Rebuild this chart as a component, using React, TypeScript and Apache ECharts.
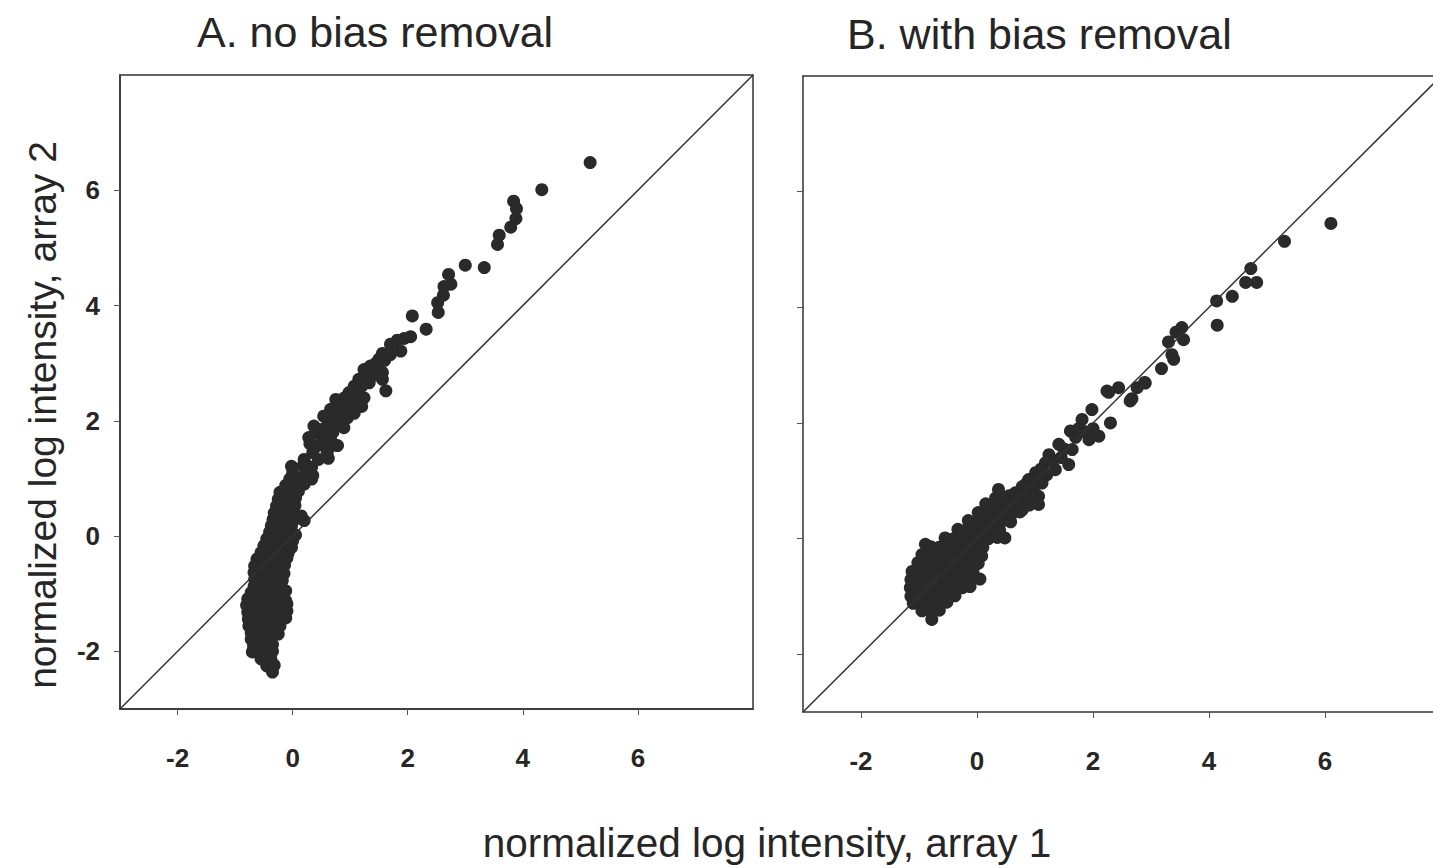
import React, { useEffect, useRef } from "react";
import * as echarts from "echarts";

const panelTitles = ["A. no bias removal", "B. with bias removal"];
const xAxisName = "normalized log intensity, array 1";
const yAxisName = "normalized log intensity, array 2";
const tickValues = [-2, 0, 2, 4, 6];
const axisMin = -3;
const axisMax = 8;
const axisMaxB = 7.86; // panel B is cut off at the right edge of the scan
const diagonal = [[-3, -3], [8, 8]];

// Panel A: no bias removal (x = array 1, y = array 2)
const pointsA = [
  [5.17, 6.48], [4.33, 6.01], [3.84, 5.81], [3.89, 5.68], [3.88, 5.51], [3.79, 5.36], [3.59, 5.22], [3.56, 5.06],
  [3.0, 4.7], [3.33, 4.66], [2.71, 4.54], [2.75, 4.37], [2.63, 4.33], [2.62, 4.18], [2.52, 4.05], [2.53, 3.88],
  [2.08, 3.82], [2.32, 3.59], [2.05, 3.46], [1.94, 3.43], [1.82, 3.4], [1.7, 3.33], [1.88, 3.21], [1.56, 3.17],
  [1.5, 3.07], [1.56, 2.84], [1.56, 2.72], [1.62, 2.52], [1.24, 2.89], [1.15, 2.72], [1.33, 2.66], [1.07, 2.6],
  [0.98, 2.49], [1.24, 2.4], [1.07, 2.13], [0.75, 2.37], [0.66, 2.2], [0.89, 2.32], [0.83, 2.08], [0.54, 2.08],
  [0.6, 1.91], [0.37, 1.91], [0.89, 1.88], [0.28, 1.71], [0.49, 1.74], [0.66, 1.68], [0.78, 1.57], [0.43, 1.57],
  [1.15, 2.55], [1.3, 2.8], [1.4, 2.95], [0.95, 2.3], [1.1, 2.35], [0.85, 2.2], [0.7, 2.05], [1.45, 3.0], [1.35, 2.95],
  [0.5, 1.85], [0.7, 1.8], [0.75, 1.95], [0.95, 2.05], [1.0, 2.2], [1.2, 2.25], [0.55, 1.62], [0.65, 1.55],
  [0.3, 1.6], [0.9, 2.4], [1.05, 2.45], [1.2, 2.6], [1.35, 2.75], [1.45, 2.85], [1.6, 3.05], [1.7, 3.15], [0.4, 1.8],
  [0.35, 1.45], [0.6, 1.45], [0.2, 1.33], [0.45, 1.33], [0.62, 1.35],
  [-0.02, 1.21], [0.18, 1.22], [0.33, 1.2], [0.0, 1.1], [0.22, 1.08], [0.35, 1.05],
  [-0.05, 0.99], [0.15, 0.98], [0.33, 0.99], [-0.12, 0.88], [0.08, 0.87], [0.2, 0.9],
  [-0.22, 0.76], [-0.02, 0.75], [0.1, 0.78], [-0.25, 0.64], [-0.08, 0.62], [0.05, 0.66],
  [-0.28, 0.52], [-0.1, 0.5], [0.04, 0.53], [-0.32, 0.4], [-0.15, 0.42], [0.02, 0.38], [0.15, 0.35],
  [-0.34, 0.29], [-0.15, 0.28], [0.05, 0.3], [0.2, 0.27], [-0.37, 0.18], [-0.2, 0.16], [-0.02, 0.18],
  [-0.4, 0.07], [-0.22, 0.05], [-0.05, 0.08], [0.05, 0.02], [-0.45, -0.05], [-0.28, -0.06], [-0.1, -0.04], [0.0, -0.08],
  [-0.5, -0.17], [-0.33, -0.18], [-0.15, -0.16], [-0.02, -0.2], [-0.55, -0.29], [-0.38, -0.3], [-0.2, -0.28], [-0.08, -0.3],
  [-0.62, -0.4], [-0.45, -0.42], [-0.28, -0.4], [-0.1, -0.38], [-0.66, -0.52], [-0.5, -0.5], [-0.32, -0.53], [-0.14, -0.5],
  [-0.67, -0.63], [-0.5, -0.64], [-0.32, -0.62], [-0.15, -0.65], [-0.66, -0.75], [-0.5, -0.76], [-0.33, -0.74], [-0.18, -0.77],
  [-0.67, -0.87], [-0.5, -0.88], [-0.33, -0.86], [-0.2, -0.88],
  [-0.72, -0.98], [-0.55, -0.99], [-0.38, -0.97], [-0.22, -1.0], [-0.12, -0.95],
  [-0.78, -1.09], [-0.6, -1.1], [-0.42, -1.08], [-0.25, -1.1], [-0.12, -1.12],
  [-0.8, -1.2], [-0.62, -1.22], [-0.45, -1.2], [-0.28, -1.21], [-0.1, -1.18],
  [-0.78, -1.32], [-0.6, -1.33], [-0.42, -1.31], [-0.25, -1.33], [-0.1, -1.3],
  [-0.77, -1.44], [-0.6, -1.45], [-0.42, -1.43], [-0.25, -1.45], [-0.12, -1.42],
  [-0.76, -1.56], [-0.58, -1.57], [-0.4, -1.55], [-0.22, -1.56],
  [-0.72, -1.68], [-0.55, -1.69], [-0.38, -1.67], [-0.25, -1.7],
  [-0.72, -1.79], [-0.55, -1.8], [-0.38, -1.78], [-0.68, -1.9], [-0.5, -1.92], [-0.35, -1.88],
  [-0.7, -2.01], [-0.52, -2.02], [-0.35, -2.0], [-0.55, -2.13], [-0.38, -2.12],
  [-0.45, -2.25], [-0.32, -2.24], [-0.35, -2.36],
];

// Panel B: with bias removal
const pointsB = [
  [6.1, 5.45], [5.3, 5.14], [4.72, 4.67], [4.63, 4.43], [4.82, 4.43], [4.4, 4.19], [4.13, 4.11], [4.14, 3.69],
  [3.53, 3.65], [3.43, 3.57], [3.56, 3.44], [3.3, 3.4], [3.36, 3.18], [3.39, 3.1], [3.18, 2.94], [2.89, 2.7],
  [2.76, 2.61], [2.44, 2.61], [2.27, 2.53], [2.67, 2.42], [2.24, 2.55], [2.64, 2.38], [2.9, 2.69], [1.98, 2.23],
  [2.3, 2.0], [1.81, 2.06], [1.61, 1.86], [2.1, 1.77], [1.93, 1.71], [1.41, 1.63], [1.64, 1.54], [1.58, 1.28],
  [1.24, 1.45], [1.18, 1.31], [1.35, 1.19], [1.01, 1.14], [0.89, 1.02], [1.12, 0.96], [0.78, 0.9], [1.06, 0.73],
  [1.06, 0.59], [0.66, 0.79], [0.89, 0.67], [0.37, 0.85], [0.32, 0.7], [0.49, 0.62], [0.78, 0.5], [0.2, 0.5], [0.43, 0.43],
  [1.7, 1.75], [1.5, 1.55], [1.3, 1.35], [1.45, 1.4], [1.1, 1.2], [0.95, 0.85], [1.2, 1.1], [1.75, 1.9], [2.0, 1.9], [1.85, 1.85],
  [0.85, 0.95], [1.0, 0.92],
  [0.4, 0.73], [0.55, 0.74], [0.7, 0.72], [0.85, 0.75], [0.98, 0.72],
  [0.15, 0.6], [0.3, 0.58], [0.45, 0.6], [0.6, 0.57], [0.75, 0.6], [0.9, 0.58],
  [0.02, 0.45], [0.17, 0.44], [0.32, 0.46], [0.47, 0.44], [0.62, 0.45], [0.74, 0.46],
  [-0.15, 0.31], [0.0, 0.3], [0.15, 0.32], [0.3, 0.3], [0.45, 0.31], [0.58, 0.29],
  [-0.33, 0.16], [-0.18, 0.15], [-0.03, 0.17], [0.12, 0.15], [0.27, 0.16], [0.39, 0.14],
  [-0.55, 0.01], [-0.4, 0.0], [-0.25, 0.02], [-0.1, 0.0], [0.05, 0.01], [0.2, 0.0], [0.35, 0.02], [0.48, 0.01],
  [-0.89, -0.1], [-0.8, -0.14], [-0.65, -0.15], [-0.5, -0.13], [-0.35, -0.15], [-0.2, -0.14], [-0.05, -0.13], [0.1, -0.15],
  [-0.95, -0.28], [-0.8, -0.29], [-0.65, -0.27], [-0.5, -0.28], [-0.35, -0.29], [-0.2, -0.27], [-0.05, -0.28], [0.08, -0.3],
  [-1.02, -0.42], [-0.87, -0.43], [-0.72, -0.41], [-0.57, -0.42], [-0.42, -0.43], [-0.27, -0.41], [-0.12, -0.42], [0.02, -0.43],
  [-1.12, -0.57], [-0.97, -0.58], [-0.82, -0.56], [-0.67, -0.57], [-0.52, -0.58], [-0.37, -0.56], [-0.22, -0.57], [-0.07, -0.58],
  [-1.14, -0.71], [-0.99, -0.72], [-0.84, -0.7], [-0.69, -0.71], [-0.54, -0.72], [-0.39, -0.7], [-0.24, -0.71], [-0.1, -0.72], [0.05, -0.7],
  [-1.15, -0.85], [-1.0, -0.86], [-0.85, -0.84], [-0.7, -0.85], [-0.55, -0.86], [-0.4, -0.84], [-0.25, -0.85], [-0.12, -0.83],
  [-1.14, -1.0], [-0.99, -1.01], [-0.84, -0.99], [-0.69, -1.0], [-0.54, -1.01], [-0.38, -0.99],
  [-1.1, -1.12], [-0.95, -1.13], [-0.8, -1.11], [-0.65, -1.12], [-0.52, -1.1],
  [-0.95, -1.25], [-0.8, -1.26], [-0.65, -1.24], [-0.78, -1.4],
];

const FONT = "'Liberation Sans', Arial, Helvetica, sans-serif";
const INK = "#262626";
const LINE = "#333333";

export default function App() {
  const ref = useRef<HTMLDivElement>(null);
  useEffect(() => {
    if (!ref.current) return;
    const chart = echarts.init(ref.current, undefined, { renderer: "svg" });

    const tickLabel = (show: boolean, margin: number) => ({
      show,
      customValues: tickValues,
      margin,
      fontFamily: FONT,
      fontWeight: "bold",
      fontSize: 26,
      color: INK,
    });
    const makeAxis = (gridIndex: number, max: number, labels: boolean, margin: number, extra: any = {}) => ({
      type: "value",
      gridIndex,
      min: axisMin,
      max,
      splitLine: { show: false },
      axisLine: { show: true, onZero: false, lineStyle: { color: LINE, width: 1.5 } },
      axisTick: { show: true, inside: false, length: 6, customValues: tickValues, lineStyle: { color: "#555", width: 1 } },
      axisLabel: tickLabel(labels, margin),
      ...extra,
    });
    const topBorder = (gridIndex: number, max: number) => ({
      type: "value",
      gridIndex,
      position: "top",
      min: axisMin,
      max,
      splitLine: { show: false },
      axisLine: { show: true, onZero: false, lineStyle: { color: LINE, width: 1.5 } },
      axisTick: { show: false },
      axisLabel: { show: false },
    });

    chart.setOption({
      animation: false,
      backgroundColor: "#ffffff",
      title: [
        { text: panelTitles[0], left: 192, top: 5, textStyle: { fontFamily: FONT, fontWeight: "normal", fontSize: 43, color: INK } },
        { text: panelTitles[1], left: 842, top: 7, textStyle: { fontFamily: FONT, fontWeight: "normal", fontSize: 43, color: INK } },
      ],
      grid: [
        { left: 120, top: 75, width: 633, height: 634, show: true, borderColor: LINE, borderWidth: 1.5, backgroundColor: "transparent" },
        { left: 803, top: 76, width: 630, height: 636, show: false },
      ],
      xAxis: [
        makeAxis(0, axisMax, true, 36),
        makeAxis(1, axisMaxB, true, 36),
        topBorder(1, axisMaxB),
      ],
      yAxis: [makeAxis(0, axisMax, true, 20), makeAxis(1, axisMax, false, 20)],
      graphic: [
        {
          type: "text",
          x: 42,
          y: 415,
          rotation: Math.PI / 2,
          style: { text: yAxisName, fontFamily: FONT, fontSize: 39, fill: INK, textAlign: "center", textVerticalAlign: "middle" },
        },
        {
          type: "text",
          x: 767,
          y: 843,
          style: { text: xAxisName, fontFamily: FONT, fontSize: 40.5, fill: INK, textAlign: "center", textVerticalAlign: "middle" },
        },
      ],
      series: [
        {
          type: "line",
          xAxisIndex: 0,
          yAxisIndex: 0,
          data: diagonal,
          showSymbol: false,
          lineStyle: { color: LINE, width: 1.5 },
          silent: true,
        },
        {
          type: "line",
          xAxisIndex: 1,
          yAxisIndex: 1,
          data: diagonal,
          showSymbol: false,
          clip: true,
          lineStyle: { color: LINE, width: 1.5 },
          silent: true,
        },
        {
          type: "scatter",
          xAxisIndex: 0,
          yAxisIndex: 0,
          data: pointsA,
          symbolSize: 13,
          itemStyle: { color: "#2a2a2a", opacity: 1 },
        },
        {
          type: "scatter",
          xAxisIndex: 1,
          yAxisIndex: 1,
          data: pointsB,
          symbolSize: 13,
          itemStyle: { color: "#2a2a2a", opacity: 1 },
        },
      ],
    });
    return () => chart.dispose();
  }, []);
  return <div ref={ref} style={{ position: "fixed", left: 0, top: 0, width: 1433, height: 868 }} />;
}
